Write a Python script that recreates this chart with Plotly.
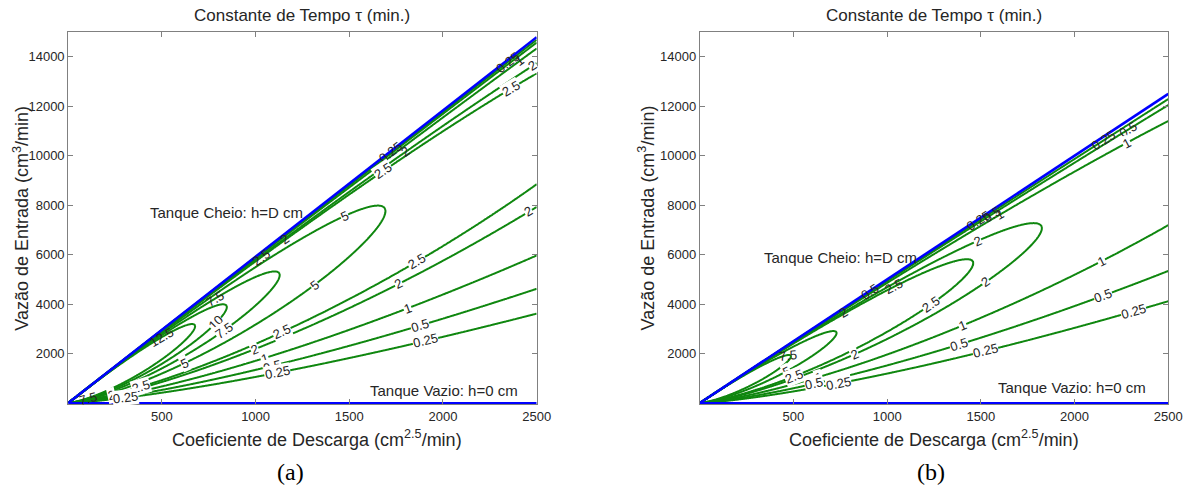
import math
import numpy as np
import plotly.graph_objects as go

# ---------------- data ----------------
levels_a = [0.25, 0.5, 1, 2, 2.5, 5, 7.5, 10, 12.5, 15]      # contour levels, panel (a)
levels_b = [0.25, 0.5, 1, 2, 2.5, 5, 7.5, 10]                # contour levels, panel (b)
k_full_tank = [0, 2500]            # discharge coefficient at ends of the "Tanque Cheio" line
q_full_tank_a = [0, 14790]         # inflow on the full-tank line, panel (a)
q_full_tank_b = [0, 12500]         # inflow on the full-tank line, panel (b)
k_empty_tank = [0, 2500]
q_empty_tank = [0, 0]
x_ticks = [500, 1000, 1500, 2000, 2500]
y_ticks = [2000, 4000, 6000, 8000, 10000, 12000, 14000]
k_range = [0, 2500]
q_range = [0, 15000]

# contour labels: (level, branch U=upper/L=lower, discharge coefficient where label sits)
labels_a = [
    (0.25, 'U', 2345), (1, 'U', 2410), (2, 'U', 2478), (2.5, 'U', 2363),
    (0.25, 'U', 1719), (2, 'U', 1800), (2.5, 'U', 1682),
    (2, 'U', 1152), (2.5, 'U', 1030),
    (5, 'U', 1472), (5, 'L', 1312),
    (10, 'L', 789), (7.5, 'L', 832), (7.5, 'U', 786), (12.5, 'U', 496),
    (2.5, 'L', 1143), (2, 'L', 996), (5, 'L', 619), (1, 'L', 1049), (0.5, 'L', 1086), (0.25, 'L', 1115),
    (2.5, 'L', 1859), (2, 'L', 1765), (1, 'L', 1812), (0.5, 'L', 1878), (0.25, 'L', 1906),
    (2, 'L', 2455),
    (2.5, 'L', 390), (2, 'L', 229), (0.25, 'L', 305), (7.5, 'L', 107),
]
labels_b = [
    (0.25, 'U', 2153), (0.5, 'U', 2286), (1, 'U', 2276),
    (0.25, 'U', 1489), (0.5, 'U', 1560), (1, 'U', 1600),
    (2, 'U', 1480), (2, 'L', 1527), (2.5, 'U', 1034), (2.5, 'L', 1233),
    (0.5, 'U', 910), (2, 'U', 768), (7.5, 'U', 470), (5, 'L', 465), (2.5, 'L', 503),
    (1, 'L', 635), (0.5, 'L', 607), (0.25, 'L', 740), (2, 'L', 825),
    (1, 'L', 1404), (0.5, 'L', 1385), (0.25, 'L', 1527),
    (1, 'L', 2143), (0.5, 'L', 2153), (0.25, 'L', 2314),
]

# ---------------- styling / layout ----------------
W, H = 1204, 492
FONT = "Arial, 'Liberation Sans', sans-serif"
GREEN = '#0f870f'
BLUE = '#0000ff'
TXT = '#262626'
dom_y = [1 - 404 / H, 1 - 32 / H]
dom_x = {'a': [69 / W, 543 / W], 'b': [708 / W, 1182 / W]}
y_axis_range = [-40, 15000]

# spherical tank time-constant field: tau = 2*A(h)*sqrt(h)/k, h=(Q/k)^2, A=pi*(D h - h^2)
def tank_diameter(q_full, k_full):
    return (q_full[-1] / k_full[-1]) ** 2

def h_fun(r, D):
    return D * r ** 3 - r ** 5

def solve_r(level, k, D, branch):
    target = level * k / (2 * math.pi)
    rs = math.sqrt(3 * D / 5)
    if target > h_fun(rs, D):
        return None
    if branch == 'L':
        lo, hi = 0.0, rs
        for _ in range(80):
            m = 0.5 * (lo + hi)
            if h_fun(m, D) < target:
                lo = m
            else:
                hi = m
    else:
        lo, hi = rs, math.sqrt(D)
        for _ in range(80):
            m = 0.5 * (lo + hi)
            if h_fun(m, D) > target:
                lo = m
            else:
                hi = m
    return 0.5 * (lo + hi)

fig = go.Figure()
annotations = []

panels = [
    ('a', 'x', 'y', levels_a, q_full_tank_a, labels_a),
    ('b', 'x2', 'y2', levels_b, q_full_tank_b, labels_b),
]

kg = np.linspace(1.0, k_range[1], 620)
qg = np.linspace(q_range[0], q_range[1], 950)
K, Q = np.meshgrid(kg, qg)
R = Q / K

for name, xa, ya, levels, q_full, labels in panels:
    D = tank_diameter(q_full, k_full_tank)
    tau = 2 * np.pi * (D * R ** 3 - R ** 5) / K
    n = len(levels)
    xp = [-1e30, 0.0] + list(levels) + [1e30]
    fp = [-1.0, 0.0] + list(range(1, n + 1)) + [n + 1.0]
    zt = np.interp(tau, xp, fp).astype(np.float32)
    fig.add_trace(go.Contour(
        x=kg.astype(np.float32), y=qg.astype(np.float32), z=zt,
        autocontour=False,
        contours=dict(start=1, end=n, size=1, coloring='lines', showlabels=False),
        colorscale=[[0, GREEN], [1, GREEN]], showscale=False,
        line=dict(width=2, smoothing=0.8),
        hoverinfo='skip', xaxis=xa, yaxis=ya))
    fig.add_trace(go.Scatter(x=k_full_tank, y=q_full, mode='lines',
                             line=dict(color=BLUE, width=2.6), hoverinfo='skip',
                             xaxis=xa, yaxis=ya, showlegend=False))
    fig.add_trace(go.Scatter(x=k_empty_tank, y=q_empty_tank, mode='lines',
                             line=dict(color=BLUE, width=2.2), hoverinfo='skip',
                             xaxis=xa, yaxis=ya, showlegend=False))

    # contour labels
    pw = (dom_x[name][1] - dom_x[name][0]) * W
    ph = (dom_y[1] - dom_y[0]) * H
    sx = pw / (k_range[1] - k_range[0])
    sy = ph / (y_axis_range[1] - y_axis_range[0])
    diag_cos = math.cos(math.atan(math.sqrt(D) * sy / sx))
    for lev, br, kk in labels:
        r = solve_r(lev, kk, D, br)
        if r is None:
            continue
        qq = r * kk
        hp = 3 * D * r ** 2 - 5 * r ** 4
        if abs(hp) < 1e-9:
            ang = -90
        else:
            slope = r + h_fun(r, D) / hp
            ang = -math.degrees(math.atan(slope * sy / sx))
        perp_px = (math.sqrt(D) * kk - qq) * sy * diag_cos
        bg = 'white' if perp_px > 10.5 else 'rgba(0,0,0,0)'
        txt = ('%g' % lev)
        annotations.append(dict(
            x=kk, y=qq, xref=xa, yref=ya, text=txt, showarrow=False,
            textangle=ang, font=dict(family=FONT, size=13, color=TXT),
            bgcolor=bg, borderpad=0, xanchor='center', yanchor='middle'))

# panel texts
cx = {'a': 306 / W, 'b': 945 / W}
xt = {'a': 321 / W, 'b': 945 / W}
yt = {'a': 21 / W, 'b': 654 / W}
cap = {'a': 294 / W, 'b': 942 / W}
for name in ['a', 'b']:
    annotations.append(dict(x=cx[name], y=1 - 15 / H, xref='paper', yref='paper',
                            text='Constante de Tempo τ (min.)', showarrow=False,
                            font=dict(family=FONT, size=17, color=TXT),
                            xanchor='center', yanchor='middle'))
    annotations.append(dict(x=xt[name], y=1 - 438 / H, xref='paper', yref='paper',
                            text='Coeficiente de Descarga (cm<sup>2.5</sup>/min)', showarrow=False,
                            font=dict(family=FONT, size=18, color=TXT),
                            xanchor='center', yanchor='middle'))
    annotations.append(dict(x=yt[name], y=1 - 218 / H, xref='paper', yref='paper',
                            text='Vazão de Entrada (cm<sup>3</sup>/min)', showarrow=False,
                            textangle=-90,
                            font=dict(family=FONT, size=18, color=TXT),
                            xanchor='center', yanchor='middle'))
    annotations.append(dict(x=cap[name], y=1 - 472 / H, xref='paper', yref='paper',
                            text='(%s)' % name, showarrow=False,
                            font=dict(family="'Liberation Serif', 'Times New Roman', serif", size=24, color='#000'),
                            xanchor='center', yanchor='middle'))

annotations += [
    dict(x=844, y=7697, xref='x', yref='y', text='Tanque Cheio: h=D cm', showarrow=False,
         font=dict(family=FONT, size=15, color=TXT), xanchor='center', yanchor='middle'),
    dict(x=2003, y=508, xref='x', yref='y', text='Tanque Vazio: h=0 cm', showarrow=False,
         font=dict(family=FONT, size=15, color=TXT), xanchor='center', yanchor='middle'),
    dict(x=749, y=5884, xref='x2', yref='y2', text='Tanque Cheio: h=D cm', showarrow=False,
         font=dict(family=FONT, size=15, color=TXT), xanchor='center', yanchor='middle'),
    dict(x=1984, y=645, xref='x2', yref='y2', text='Tanque Vazio: h=0 cm', showarrow=False,
         font=dict(family=FONT, size=15, color=TXT), xanchor='center', yanchor='middle'),
]

def xaxis_cfg(name, anchor):
    return dict(domain=dom_x[name], range=k_range, tickvals=x_ticks,
                ticktext=[str(v) for v in x_ticks], ticks='inside', ticklen=5,
                tickcolor='#808080', showline=True, linecolor='#808080', linewidth=1,
                mirror='ticks', showgrid=False, zeroline=False, anchor=anchor,
                tickfont=dict(family=FONT, size=13, color=TXT), fixedrange=True)

def yaxis_cfg(anchor):
    return dict(domain=dom_y, range=y_axis_range, tickvals=y_ticks,
                ticktext=[str(v) for v in y_ticks], ticks='inside', ticklen=5,
                tickcolor='#808080', showline=True, linecolor='#808080', linewidth=1,
                mirror='ticks', showgrid=False, zeroline=False, anchor=anchor,
                tickfont=dict(family=FONT, size=13, color=TXT), fixedrange=True)

fig.update_layout(
    width=W, height=H, margin=dict(l=0, r=0, t=0, b=0),
    paper_bgcolor='white', plot_bgcolor='white', showlegend=False,
    xaxis=xaxis_cfg('a', 'y'), yaxis=yaxis_cfg('x'),
    xaxis2=xaxis_cfg('b', 'y2'), yaxis2=yaxis_cfg('x2'),
    annotations=annotations,
)

fig.write_html("out.html", config={'displayModeBar': False},
               post_script="document.body.style.margin='0px';document.body.style.overflow='hidden';")
